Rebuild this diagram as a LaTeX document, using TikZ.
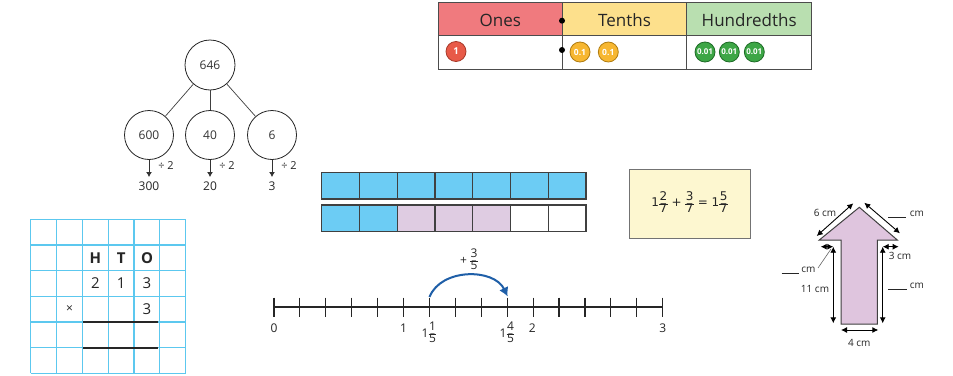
\documentclass[tikz,border=0pt]{standalone}
\usepackage{fontspec}
\setmainfont{Open Sans}
\newfontfamily\verd{DejaVu Sans}
\usetikzlibrary{arrows.meta}
\definecolor{onesc}{HTML}{F07A7E}
\definecolor{tenthc}{HTML}{FDE08C}
\definecolor{hundc}{HTML}{B9DFB0}
\definecolor{redc}{HTML}{E85A48}
\definecolor{redd}{HTML}{A83A2A}
\definecolor{yelc}{HTML}{F7B731}
\definecolor{yeld}{HTML}{B07C10}
\definecolor{grnc}{HTML}{3DA646}
\definecolor{grnd}{HTML}{1D6B25}
\definecolor{gridc}{HTML}{5CC8EF}
\definecolor{barblue}{HTML}{6CCCF4}
\definecolor{barlil}{HTML}{DFCCE2}
\definecolor{eqfill}{HTML}{FDF7D0}
\definecolor{shapec}{HTML}{DFC5DE}
\definecolor{jumpc}{HTML}{1F5FA8}
\newcommand{\fr}[2]{\ensuremath{\vcenter{\hbox{\renewcommand{\arraystretch}{0.85}\begin{tabular}{@{\hspace{0.5pt}}c@{\hspace{0.5pt}}}#1\\\hline #2\end{tabular}}}}}
\begin{document}
\begin{tikzpicture}[x=1pt,y=-1pt,
  bond/.style={circle,draw=black!85,line width=0.8pt,inner sep=0pt,font=\fontsize{12}{14}\selectfont,text=black!80},
  bondline/.style={draw=black!75,line width=0.7pt},
  divarrow/.style={draw=black!80,line width=1pt,-{Latex[length=5pt,width=6pt]}},
  tableline/.style={draw=black!70,line width=1pt},
  hdr/.style={font=\fontsize{17}{20}\selectfont,text=black!85},
  cnt/.style={circle,minimum size=20pt,inner sep=0pt,line width=0.8pt,text=white,font=\bfseries\fontsize{8}{8}\selectfont},
  gridline/.style={draw=gridc,line width=1.2pt},
  gtext/.style={font=\fontsize{15}{18}\selectfont,text=black!85},
  cell/.style={draw=black!75,line width=1.3pt},
  dim/.style={draw=black,line width=0.9pt,{Latex[length=6pt,width=6pt]}-{Latex[length=6pt,width=6pt]}},
  dlab/.style={font=\fontsize{10}{12}\selectfont,text=black!85},
  nl/.style={font=\fontsize{12}{14}\selectfont,text=black!85},
  blank/.style={draw=black!85,line width=0.7pt}
]
\useasboundingbox (0,0) rectangle (953,375);
\fill[white] (0,0) rectangle (953,375);

% ---------- number bond ----------
\node[bond,minimum size=50pt] (t) at (210,65) {646};
\node[bond,minimum size=49pt] (b1) at (149,135) {600};
\node[bond,minimum size=49pt] (b2) at (210,135) {40};
\node[bond,minimum size=49pt] (b3) at (272,135) {6};
\draw[bondline] (t) -- (b1);
\draw[bondline] (t) -- (b2);
\draw[bondline] (t) -- (b3);
\coordinate (e1) at (149,177);
\coordinate (e2) at (210,177);
\coordinate (e3) at (272,177);
\draw[divarrow] (b1.south) -- (e1);
\draw[divarrow] (b2.south) -- (e2);
\draw[divarrow] (b3.south) -- (e3);
\node[nl,font=\fontsize{11}{13}\selectfont] (d1) at (166,166) {÷ 2};
\node[nl,font=\fontsize{11}{13}\selectfont] (d2) at (227,166) {÷ 2};
\node[nl,font=\fontsize{11}{13}\selectfont] (d3) at (289,166) {÷ 2};
\node[nl] (r1) at (149,186) {300};
\node[nl] (r2) at (210,186) {20};
\node[nl] (r3) at (272,186) {3};

% ---------- place value table ----------
\fill[onesc] (438.3,2.7) rectangle (562.3,35);
\fill[tenthc] (562.3,2.7) rectangle (686.7,35);
\fill[hundc] (686.7,2.7) rectangle (811.7,35);
\draw[tableline] (438.3,2.7) rectangle (811.7,69.3);
\draw[tableline] (438.3,35) -- (811.7,35);
\draw[tableline] (562.3,2.7) -- (562.3,69.3);
\draw[tableline] (686.7,2.7) -- (686.7,69.3);
\node[hdr] (hO) at (500.3,20) {Ones};
\node[hdr] (hT) at (624.5,20) {Tenths};
\node[hdr] (hH) at (749.2,20) {Hundredths};
\fill[black] (562,20.7) circle (3);
\fill[black] (562,50) circle (3);
\node[cnt,fill=redc,draw=redd,font=\bfseries\fontsize{9.5}{10}\selectfont] (c1) at (456,51.5) {1};
\node[cnt,fill=yelc,draw=yeld,font=\bfseries\fontsize{8.5}{9}\selectfont] (c2) at (580,52) {0.1};
\node[cnt,fill=yelc,draw=yeld,font=\bfseries\fontsize{8.5}{9}\selectfont] (c3) at (608.3,52) {0.1};
\node[cnt,fill=grnc,draw=grnd] (c4) at (705,52) {0.01};
\node[cnt,fill=grnc,draw=grnd] (c5) at (729.3,52) {0.01};
\node[cnt,fill=grnc,draw=grnd] (c6) at (754.3,52) {0.01};

% ---------- grid ----------
\foreach \i in {0,...,6} {
  \draw[gridline] ({30.7+\i*25.83},219.3) -- ({30.7+\i*25.83},373.3);
  \draw[gridline] (30.7,{219.3+\i*25.67}) -- (185.7,{219.3+\i*25.67});
}
\node[gtext,font=\bfseries\fontsize{15}{18}\selectfont] (gH) at (95.3,257.8) {H};
\node[gtext,font=\bfseries\fontsize{15}{18}\selectfont] (gT) at (121.1,257.8) {T};
\node[gtext,font=\bfseries\fontsize{15}{18}\selectfont] (gO) at (147.0,257.8) {O};
\node[gtext] (g2) at (95.3,283.5) {2};
\node[gtext] (g1) at (121.1,283.5) {1};
\node[gtext] (g3) at (147.0,283.5) {3};
\node[gtext,font=\fontsize{12}{14}\selectfont] (gx) at (69.5,309.2) {×};
\node[gtext] (g3b) at (147.0,309.2) {3};
\draw[black!85,line width=2pt] (82.7,322.3) -- (158.3,322.3);
\draw[black!85,line width=2pt] (82.7,347.7) -- (158.3,347.7);

% ---------- bar model ----------
\foreach \i in {0,...,6} {
  \draw[cell,fill=barblue] ({321.7+\i*37.76},172.7) rectangle ({321.7+(\i+1)*37.76},199);
}
\foreach \i/\c in {0/barblue,1/barblue,2/barlil,3/barlil,4/barlil,5/white,6/white} {
  \draw[cell,fill=\c] ({321.7+\i*37.76},205) rectangle ({321.7+(\i+1)*37.76},231.3);
}

% ---------- equation box ----------
\node[draw=black!55,fill=eqfill,line width=0.8pt,minimum width=120.7pt,minimum height=69pt,inner sep=0pt,
  font=\verd\fontsize{12}{13}\selectfont,text=black!85] (eq) at (689.7,203.8)
  {1\fr{2}{7} + \fr{3}{7} = 1\fr{5}{7}};

% ---------- number line ----------
\coordinate (n0) at (274,307);
\coordinate (n3) at (662.7,307);
\draw[black!85,line width=1.1pt] (n0) -- (n3);
\foreach \k in {0,...,15} {
  \draw[black!85,line width=1.1pt] ({274+\k*25.913},297.5) -- ({274+\k*25.913},316.5);
}
\node[nl] (l0) at (274,328) {0};
\node[nl] (l1) at (403.6,328) {1};
\node[nl] (l2) at (532.3,328) {2};
\node[nl] (l3) at (662.7,328) {3};
\node[nl,inner sep=0pt,font=\fontsize{12}{13}\selectfont] (l11) at (429,334) {1\fr{1}{5}};
\node[nl,inner sep=0pt,font=\fontsize{12}{13}\selectfont] (l14) at (507,334) {1\fr{4}{5}};
\coordinate (js) at (429.5,297);
\coordinate (je) at (507.7,296.5);
\draw[jumpc,line width=2pt,-{Latex[length=9pt,width=10pt]}] (js) .. controls (441,268) and (494,268) .. (je);
\node[nl,inner sep=0pt,font=\fontsize{12}{13}\selectfont] (jl) at (469,261) {+ \fr{3}{5}};

% ---------- arrow shape ----------
\draw[draw=black!75,fill=shapec,line width=1pt]
  (859.3,207.3) -- (897.3,240) -- (877.3,240) -- (877.3,324) -- (841,324) -- (841,240) -- (819.3,240) -- cycle;
\coordinate (a1) at (816.7,236);
\coordinate (a2) at (853.3,203.3);
\coordinate (a3) at (864.3,202.7);
\coordinate (a4) at (900,233.3);
\coordinate (a5) at (820.7,246.7);
\coordinate (a6) at (833.3,246.7);
\coordinate (a7) at (833.3,323.3);
\coordinate (a8) at (882.7,246.7);
\coordinate (a9) at (898.7,246.7);
\coordinate (a10) at (882.7,323.3);
\coordinate (a11) at (841,330);
\coordinate (a12) at (878.3,330);
\draw[dim] (a1) -- (a2);
\draw[dim] (a3) -- (a4);
\draw[dim] (a5) -- (a6);
\draw[dim] (a6) -- (a7);
\draw[dim] (a8) -- (a9);
\draw[dim] (a8) -- (a10);
\draw[dim] (a11) -- (a12);
\node[dlab] (s6) at (825,213) {6 cm};
\node[dlab] (s3) at (900,256) {3 cm};
\node[dlab] (s11) at (815,288.5) {11 cm};
\node[dlab] (s4) at (859.3,343) {4 cm};
\coordinate (ld1) at (831,249);
\coordinate (ld2) at (818,268);
\draw[black!60,line width=0.6pt] (ld1) -- (ld2);
% blanks
\coordinate (u1a) at (888.3,217); \coordinate (u1b) at (906,217);
\draw[blank] (u1a) -- (u1b);
\node[dlab] (cm1) at (917,213.5) {cm};
\coordinate (u2a) at (781.7,273.3); \coordinate (u2b) at (799.3,273.3);
\draw[blank] (u2a) -- (u2b);
\node[dlab] (cm2) at (808.5,270) {cm};
\coordinate (u3a) at (888.3,289); \coordinate (u3b) at (906.7,289);
\draw[blank] (u3a) -- (u3b);
\node[dlab] (cm3) at (917,286) {cm};
\end{tikzpicture}
\end{document}
